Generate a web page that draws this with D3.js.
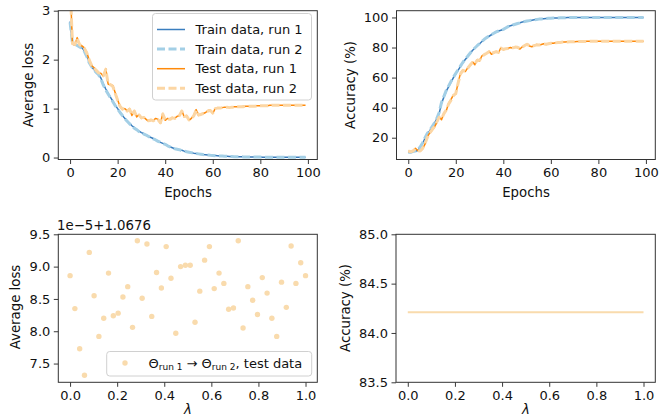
<!DOCTYPE html>
<html>
<head>
<meta charset="utf-8">
<script src="https://cdn.jsdelivr.net/npm/d3@7"></script>
<style>
  body { margin: 0; background: #fff; }
  text { font-family: "DejaVu Sans", sans-serif; fill: #111; }
</style>
</head>
<body>
<svg id="fig" width="659" height="420"></svg>
<script>
// ---- data ----
var epochs = d3.range(100);

var trainLoss1 = [2.78,2.33,2.30,2.29,2.27,2.24,2.18,2.08,1.95,1.86,
  1.80,1.75,1.70,1.62,1.50,1.40,1.31,1.23,1.15,1.07,
  1.00,0.93,0.86,0.80,0.75,0.70,0.65,0.61,0.57,0.54,
  0.51,0.49,0.46,0.43,0.41,0.39,0.36,0.34,0.31,0.29,
  0.27,0.25,0.22,0.20,0.18,0.17,0.16,0.15,0.13,0.12,
  0.11,0.10,0.09,0.085,0.075,0.07,0.06,0.055,0.05,0.046,
  0.042,0.04,0.036,0.033,0.03,0.028,0.025,0.022,0.02,0.018,
  0.016,0.015,0.014,0.013,0.012,0.011,0.010,0.010,0.009,0.009,
  0.009,0.008,0.008,0.008,0.007,0.007,0.007,0.007,0.006,0.006,
  0.006,0.006,0.006,0.005,0.005,0.005,0.005,0.005,0.005,0.005];
var trainLoss2 = [2.76,2.34,2.31,2.29,2.26,2.23,2.17,2.07,1.94,1.86,
  1.79,1.74,1.69,1.60,1.48,1.38,1.30,1.22,1.14,1.06,
  0.99,0.92,0.86,0.80,0.74,0.69,0.65,0.60,0.57,0.53,
  0.51,0.48,0.46,0.43,0.41,0.38,0.36,0.33,0.31,0.29,
  0.27,0.24,0.22,0.20,0.18,0.17,0.16,0.14,0.13,0.12,
  0.11,0.10,0.09,0.083,0.075,0.068,0.06,0.055,0.05,0.045,
  0.042,0.039,0.035,0.033,0.03,0.027,0.024,0.022,0.02,0.018,
  0.016,0.015,0.014,0.013,0.012,0.011,0.010,0.010,0.009,0.009,
  0.009,0.008,0.008,0.008,0.007,0.007,0.007,0.006,0.006,0.006,
  0.006,0.006,0.005,0.005,0.005,0.005,0.005,0.005,0.005,0.005];
var testLoss1 = [3.60,2.32,2.30,2.45,2.30,2.28,2.24,2.15,2.00,1.88,
  1.84,1.78,1.74,1.72,1.66,1.82,1.50,1.48,1.47,1.32,
  1.18,1.04,0.98,1.00,0.96,1.00,0.86,0.96,0.83,0.88,
  0.80,0.82,0.78,0.74,0.76,0.76,0.80,0.78,0.70,0.90,
  0.76,0.80,0.78,0.82,0.80,0.84,0.86,0.96,0.83,0.86,
  0.76,0.80,0.86,0.98,0.86,0.88,0.90,0.92,0.96,0.97,
  0.90,1.00,1.02,1.01,1.02,1.03,1.03,1.02,1.03,1.04,
  1.04,1.04,1.04,1.05,1.05,1.05,1.05,1.05,1.06,1.06,
  1.06,1.06,1.06,1.06,1.07,1.07,1.07,1.07,1.07,1.07,
  1.07,1.07,1.07,1.07,1.07,1.07,1.07,1.07,1.07,1.07];
var testLoss2 = [3.55,2.33,2.31,2.43,2.31,2.27,2.23,2.14,2.00,1.89,
  1.83,1.78,1.73,1.71,1.67,1.80,1.51,1.49,1.45,1.31,
  1.17,1.05,0.99,1.01,0.95,0.99,0.87,0.95,0.84,0.87,
  0.81,0.82,0.77,0.75,0.77,0.75,0.79,0.77,0.71,0.89,
  0.77,0.79,0.78,0.81,0.80,0.83,0.86,0.95,0.84,0.85,
  0.77,0.80,0.85,0.97,0.87,0.88,0.90,0.92,0.95,0.96,
  0.91,1.00,1.01,1.01,1.02,1.02,1.03,1.02,1.03,1.03,
  1.04,1.04,1.04,1.04,1.05,1.05,1.05,1.05,1.05,1.06,
  1.06,1.06,1.06,1.06,1.06,1.07,1.07,1.07,1.07,1.07,
  1.07,1.07,1.07,1.07,1.07,1.07,1.07,1.07,1.07,1.07];

var trainAcc1 = [10.5,10.2,10.8,11.0,11.5,13.5,16.0,19.5,22.5,24.5,
  27.0,29.5,32.5,36.0,43.0,47.0,51.0,54.0,57.0,60.0,
  62.5,65.0,67.5,70.0,72.0,74.0,76.0,78.0,79.5,81.0,
  82.5,84.0,85.5,86.5,87.5,88.5,89.5,90.5,91.0,91.5,
  92.0,93.0,94.0,94.5,95.0,95.5,96.0,96.5,97.0,97.3,
  97.6,97.9,98.2,98.5,98.7,98.9,99.0,99.2,99.3,99.4,
  99.5,99.6,99.7,99.7,99.8,99.8,99.8,99.9,99.9,99.9,
  99.9,99.9,99.9,100,100,100,100,100,100,100,
  100,100,100,100,100,100,100,100,100,100,
  100,100,100,100,100,100,100,100,100,100];
var trainAcc2 = [10.4,10.3,10.9,11.1,11.8,13.8,16.5,19.8,22.8,24.8,
  27.3,29.8,32.8,36.8,43.5,47.5,51.5,54.5,57.5,60.3,
  62.8,65.3,67.8,70.2,72.3,74.2,76.2,78.1,79.7,81.2,
  82.6,84.1,85.5,86.6,87.6,88.6,89.5,90.4,91.0,91.6,
  92.1,93.0,93.9,94.5,95.0,95.5,96.0,96.4,96.9,97.3,
  97.6,97.9,98.2,98.4,98.7,98.9,99.0,99.2,99.3,99.4,
  99.5,99.6,99.6,99.7,99.8,99.8,99.8,99.9,99.9,99.9,
  99.9,99.9,99.9,99.9,100,100,100,100,100,100,
  100,100,100,100,100,100,100,100,100,100,
  100,100,100,100,100,100,100,100,100,100];
var testAcc1 = [11.0,10.5,11.0,13.0,11.5,11.0,12.5,15.5,20.5,23.0,
  25.0,27.0,30.0,34.0,32.0,36.5,38.0,43.0,45.5,48.5,
  49.0,57.0,63.0,65.0,64.0,66.5,68.0,70.5,68.5,72.0,
  71.0,74.5,75.5,76.0,77.5,75.5,76.5,77.5,76.5,80.0,
  78.5,79.0,79.5,80.0,79.5,80.5,80.0,79.0,80.5,81.5,
  82.5,81.0,80.5,81.5,82.0,81.5,82.0,82.5,82.0,82.5,
  83.0,82.8,83.2,83.3,83.5,83.6,83.7,83.8,83.8,83.9,
  83.9,84.0,84.0,84.0,84.1,84.1,84.1,84.1,84.2,84.2,
  84.2,84.2,84.2,84.2,84.2,84.2,84.2,84.2,84.2,84.2,
  84.2,84.2,84.2,84.2,84.2,84.2,84.2,84.2,84.2,84.2];
var testAcc2 = [11.2,10.6,11.2,12.6,11.3,11.2,12.8,16.0,20.0,23.2,
  25.3,27.4,30.5,33.5,32.5,36.0,38.5,42.5,45.0,48.0,
  49.5,56.5,62.5,64.8,64.3,66.2,68.3,70.0,69.0,71.5,
  71.5,74.0,75.3,76.2,77.2,75.8,76.8,77.2,76.8,79.5,
  78.8,79.2,79.3,79.8,79.8,80.3,80.2,79.3,80.3,81.3,
  82.2,81.2,80.8,81.3,81.8,81.7,82.0,82.3,82.2,82.5,
  82.8,82.9,83.1,83.3,83.4,83.6,83.7,83.7,83.8,83.9,
  83.9,84.0,84.0,84.0,84.0,84.1,84.1,84.1,84.1,84.2,
  84.2,84.2,84.2,84.2,84.2,84.2,84.2,84.2,84.2,84.2,
  84.2,84.2,84.2,84.2,84.2,84.2,84.2,84.2,84.2,84.2];

var lambdas = [0,0.0204,0.0408,0.0612,0.0816,0.102,0.1224,0.1429,0.1633,0.1837,
  0.2041,0.2245,0.2449,0.2653,0.2857,0.3061,0.3265,0.3469,0.3673,0.3878,
  0.4082,0.4286,0.449,0.4694,0.4898,0.5102,0.5306,0.551,0.5714,0.5918,
  0.6122,0.6327,0.6531,0.6735,0.6939,0.7143,0.7347,0.7551,0.7755,0.7959,
  0.8163,0.8367,0.8571,0.8776,0.898,0.9184,0.9388,0.9592,0.9796,1];
// interpolation loss, shown as (value - 1.0676) in units of 1e-5
var lossOffset = 1.0676;
var interpLoss = [8.86,8.35,7.73,7.32,9.22,8.55,7.92,8.20,8.90,8.24,
  8.28,8.53,8.69,8.06,9.40,8.51,9.35,8.23,8.91,8.67,
  9.31,8.82,7.97,9.00,9.02,9.02,8.14,8.62,9.10,9.31,
  8.66,8.90,8.74,8.34,8.36,9.40,8.05,8.69,8.48,8.26,
  8.83,8.59,8.20,7.92,8.76,8.37,9.32,8.74,9.06,8.86];
var interpAcc = [84.21,84.21,84.21,84.21,84.21,84.21,84.21,84.21,84.21,84.21,
  84.21,84.21,84.21,84.21,84.21,84.21,84.21,84.21,84.21,84.21,
  84.21,84.21,84.21,84.21,84.21,84.21,84.21,84.21,84.21,84.21,
  84.21,84.21,84.21,84.21,84.21,84.21,84.21,84.21,84.21,84.21,
  84.21,84.21,84.21,84.21,84.21,84.21,84.21,84.21,84.21,84.21];

var lossTicks = [0, 1, 2, 3];
var accTicks = [20, 40, 60, 80, 100];
var epochTicks = [0, 20, 40, 60, 80, 100];
var lambdaTicks = [0, 0.2, 0.4, 0.6, 0.8, 1.0];
var interpLossTicks = [7.5, 8.0, 8.5, 9.0, 9.5];
var interpAccTicks = [83.5, 84.0, 84.5, 85.0];

var legendLabels = ['Train data, run 1', 'Train data, run 2', 'Test data, run 1', 'Test data, run 2'];

var cTrain1 = '#3a7ebf', cTrain2 = '#a3cfe6', cTest1 = '#ff8a0a', cTest2 = '#fcd6a4', cInterp = '#f9dbad';

var svg = d3.select('#fig');
var FS = 13;    // tick labels
var LFS = 13.3; // axis titles, legend

function makePanel(id, left, right, top, bottom, xDom, yDom, xTicks, yTicks, xFmt, yFmt) {
  var x = d3.scaleLinear().domain(xDom).range([left, right]);
  var y = d3.scaleLinear().domain(yDom).range([bottom, top]);
  svg.append('clipPath').attr('id', id)
    .append('rect').attr('x', left).attr('y', top).attr('width', right - left).attr('height', bottom - top);
  var g = svg.append('g');
  var ax = svg.append('g').attr('transform', 'translate(0,' + bottom + ')')
    .call(d3.axisBottom(x).tickValues(xTicks).tickSize(4.5).tickPadding(3.5).tickFormat(xFmt));
  var ay = svg.append('g').attr('transform', 'translate(' + left + ',0)')
    .call(d3.axisLeft(y).tickValues(yTicks).tickSize(4.5).tickPadding(3.5).tickFormat(yFmt));
  [ax, ay].forEach(function(a) {
    a.select('.domain').remove();
    a.selectAll('line').attr('stroke', '#222').attr('stroke-width', 0.9);
    a.selectAll('text').attr('font-size', FS).attr('font-family', 'DejaVu Sans').attr('fill', '#111');
  });
  svg.append('rect').attr('x', left).attr('y', top).attr('width', right - left).attr('height', bottom - top)
    .attr('fill', 'none').attr('stroke', '#333').attr('stroke-width', 1);
  return { x: x, y: y, g: g, clip: 'url(#' + id + ')' };
}

function drawLine(p, xs, ys, color, width, dash) {
  var line = d3.line().x(function(d, i) { return p.x(xs[i]); }).y(function(d) { return p.y(d); });
  p.g.append('path').datum(ys).attr('d', line).attr('clip-path', p.clip)
    .attr('fill', 'none').attr('stroke', color).attr('stroke-width', width)
    .attr('stroke-linejoin', 'round')
    .attr('stroke-dasharray', dash || null);
}

function axisTitle(txt, x, y, rot) {
  svg.append('text').attr('x', x).attr('y', y).attr('font-size', LFS)
    .attr('text-anchor', 'middle').attr('dominant-baseline', 'central')
    .attr('transform', rot ? 'rotate(-90,' + x + ',' + y + ')' : null)
    .text(txt);
}

var fInt = d3.format('d'), f1 = d3.format('.1f');

// ---- top left: loss ----
var p1 = makePanel('c1', 58.3, 317.3, 10.7, 159.5, [-4.95, 103.95], [-0.04, 3], epochTicks, lossTicks, fInt, fInt);
drawLine(p1, epochs, trainLoss1, cTrain1, 1.5);
drawLine(p1, epochs, trainLoss2, cTrain2, 3, '8,3.5');
drawLine(p1, epochs, testLoss1, cTest1, 1.5);
drawLine(p1, epochs, testLoss2, cTest2, 3, '8,3.5');
axisTitle('Average loss', 28, 85, true);
axisTitle('Epochs', 188, 192.5, false);

// legend
var lg = svg.append('g');
lg.append('rect').attr('x', 152.5).attr('y', 13.5).attr('width', 159).attr('height', 86.5)
  .attr('rx', 3).attr('fill', 'rgba(255,255,255,0.8)').attr('stroke', '#d0d0d0').attr('stroke-width', 1);
var legCols = [cTrain1, cTrain2, cTest1, cTest2];
legendLabels.forEach(function(lab, i) {
  var yy = 29.5 + i * 19.6;
  lg.append('line').attr('x1', 157).attr('x2', 185).attr('y1', yy).attr('y2', yy)
    .attr('stroke', legCols[i]).attr('stroke-width', i % 2 ? 3 : 1.5)
    .attr('stroke-dasharray', i % 2 ? '8,3.5' : null);
  lg.append('text').attr('x', 195.5).attr('y', yy).attr('dominant-baseline', 'central')
    .attr('font-size', 13).text(lab);
});

// ---- top right: accuracy ----
var p2 = makePanel('c2', 396.5, 655.3, 10.7, 159.5, [-4.95, 103.95], [5.5, 104.5], epochTicks, accTicks, fInt, fInt);
drawLine(p2, epochs, trainAcc1, cTrain1, 1.5);
drawLine(p2, epochs, trainAcc2, cTrain2, 3, '8,3.5');
drawLine(p2, epochs, testAcc1, cTest1, 1.5);
drawLine(p2, epochs, testAcc2, cTest2, 3, '8,3.5');
axisTitle('Accuracy (%)', 350, 85, true);
axisTitle('Epochs', 526, 192.5, false);

// ---- bottom left: interpolation loss ----
var p3 = makePanel('c3', 58.3, 317.3, 234.3, 382.3, [-0.05, 1.05], [7.21, 9.5], lambdaTicks, interpLossTicks, f1, f1);
p3.g.selectAll('circle').data(interpLoss).enter().append('circle')
  .attr('cx', function(d, i) { return p3.x(lambdas[i]); })
  .attr('cy', function(d) { return p3.y(d); })
  .attr('r', 2.7).attr('fill', cInterp);
svg.append('text').attr('x', 57).attr('y', 230).attr('font-size', LFS)
  .text('1e\u22125+' + lossOffset);
axisTitle('Average loss', 15, 307, true);
svg.append('text').attr('x', 188).attr('y', 414).attr('font-size', LFS)
  .attr('text-anchor', 'middle').attr('font-style', 'italic').text('\u03bb');

var lg2 = svg.append('g');
lg2.append('rect').attr('x', 106.7).attr('y', 351.5).attr('width', 205).attr('height', 24.5)
  .attr('rx', 3).attr('fill', 'rgba(255,255,255,0.8)').attr('stroke', '#d0d0d0').attr('stroke-width', 1);
lg2.append('circle').attr('cx', 125).attr('cy', 363).attr('r', 2.7).attr('fill', cInterp);
var lt = lg2.append('text').attr('x', 148.5).attr('y', 367.5).attr('font-size', 13);
lt.append('tspan').text('\u0398');
lt.append('tspan').attr('font-size', 9).attr('dy', 2.5).text('run 1');
lt.append('tspan').attr('dy', -2.5).text(' \u2192 \u0398');
lt.append('tspan').attr('font-size', 9).attr('dy', 2.5).text('run 2');
lt.append('tspan').attr('dy', -2.5).text(', test data');

// ---- bottom right: interpolation accuracy ----
var p4 = makePanel('c4', 396, 655.3, 234.3, 382.3, [-0.05, 1.05], [83.5, 85.0], lambdaTicks, interpAccTicks, f1, f1);
drawLine(p4, lambdas, interpAcc, cInterp, 2);
axisTitle('Accuracy (%)', 345, 308, true);
svg.append('text').attr('x', 526).attr('y', 414).attr('font-size', LFS)
  .attr('text-anchor', 'middle').attr('font-style', 'italic').text('\u03bb');
</script>
</body>
</html>
